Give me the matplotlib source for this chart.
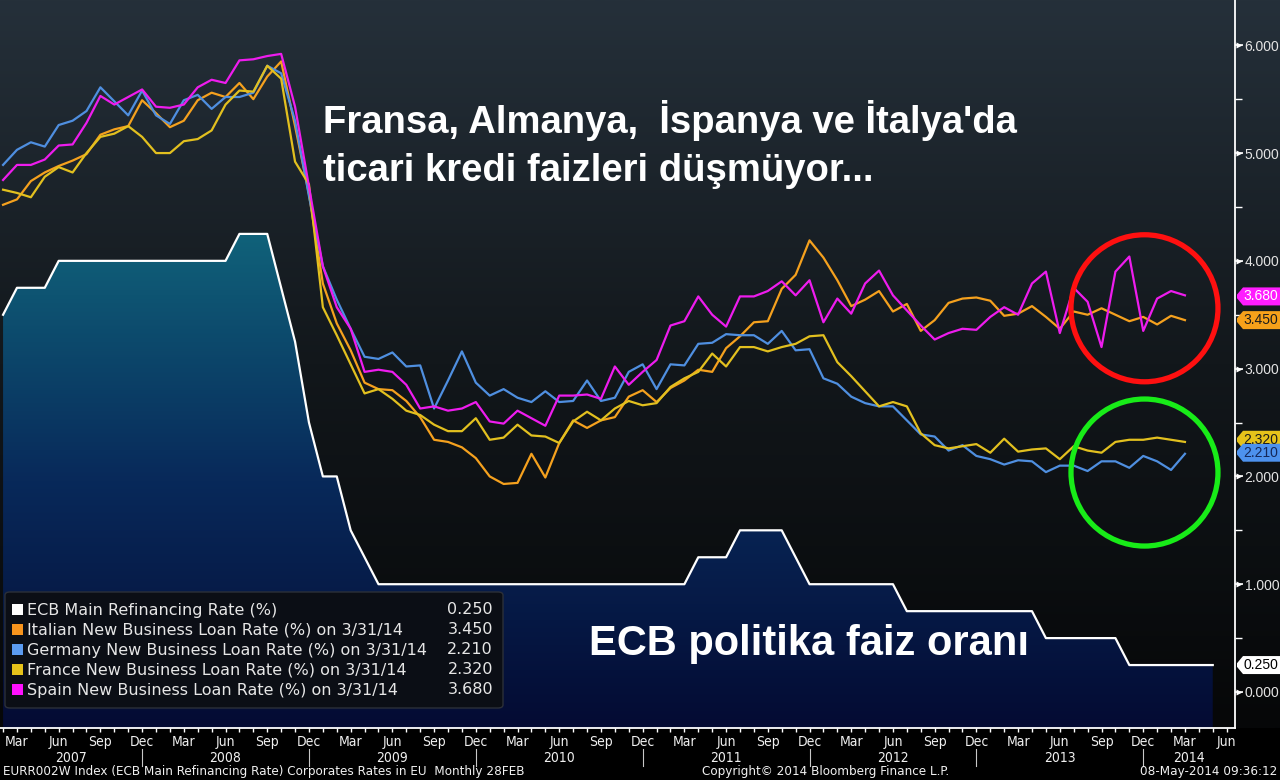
import numpy as np
import matplotlib.pyplot as plt
import matplotlib.transforms as mtransforms
from matplotlib import font_manager
from matplotlib.colors import LinearSegmentedColormap
from matplotlib.patches import Ellipse, FancyBboxPatch, Polygon, Rectangle

# month index: 0 = Jan 2007
ecb_months = np.arange(1, 89)    # Feb 2007 .. May 2014
ecb_rate = [3.50, 3.75, 3.75, 3.75, 4.00, 4.00, 4.00, 4.00, 4.00, 4.00,
            4.00, 4.00, 4.00, 4.00, 4.00, 4.00, 4.00, 4.25, 4.25, 4.25,
            3.75, 3.25, 2.50, 2.00, 2.00, 1.50, 1.25, 1.00, 1.00, 1.00,
            1.00, 1.00, 1.00, 1.00, 1.00, 1.00, 1.00, 1.00, 1.00, 1.00,
            1.00, 1.00, 1.00, 1.00, 1.00, 1.00, 1.00, 1.00, 1.00, 1.00,
            1.25, 1.25, 1.25, 1.50, 1.50, 1.50, 1.50, 1.25, 1.00, 1.00,
            1.00, 1.00, 1.00, 1.00, 1.00, 0.75, 0.75, 0.75, 0.75, 0.75,
            0.75, 0.75, 0.75, 0.75, 0.75, 0.50, 0.50, 0.50, 0.50, 0.50,
            0.50, 0.25, 0.25, 0.25, 0.25, 0.25, 0.25, 0.25]

loan_months = np.arange(1, 87)   # Feb 2007 .. Mar 2014
italy = [4.52, 4.57, 4.74, 4.82, 4.88, 4.93, 4.99, 5.17, 5.22, 5.25,
         5.49, 5.37, 5.24, 5.30, 5.49, 5.56, 5.52, 5.65, 5.50, 5.71,
         5.85, 5.25, 4.62, 3.79, 3.42, 3.17, 2.87, 2.81, 2.80, 2.70,
         2.55, 2.34, 2.32, 2.27, 2.17, 2.00, 1.93, 1.94, 2.21, 1.99,
         2.31, 2.52, 2.45, 2.52, 2.55, 2.74, 2.80, 2.69, 2.82, 2.89,
         2.99, 2.97, 3.19, 3.30, 3.43, 3.44, 3.74, 3.87, 4.19, 4.03,
         3.82, 3.58, 3.64, 3.72, 3.53, 3.60, 3.35, 3.45, 3.61, 3.65,
         3.66, 3.63, 3.49, 3.51, 3.58, 3.48, 3.37, 3.53, 3.50, 3.56,
         3.50, 3.44, 3.48, 3.41, 3.49, 3.45]
germany = [4.89, 5.03, 5.10, 5.06, 5.26, 5.30, 5.39, 5.61, 5.48, 5.35,
           5.58, 5.35, 5.27, 5.49, 5.54, 5.41, 5.52, 5.52, 5.56, 5.81,
           5.74, 5.30, 4.60, 3.95, 3.64, 3.37, 3.11, 3.09, 3.15, 3.02,
           3.03, 2.63, 2.89, 3.16, 2.87, 2.75, 2.81, 2.73, 2.69, 2.79,
           2.69, 2.70, 2.89, 2.70, 2.73, 2.97, 3.04, 2.81, 3.04, 3.03,
           3.23, 3.24, 3.32, 3.31, 3.31, 3.23, 3.35, 3.17, 3.18, 2.91,
           2.86, 2.74, 2.68, 2.65, 2.65, 2.52, 2.39, 2.37, 2.24, 2.29,
           2.19, 2.16, 2.11, 2.15, 2.14, 2.04, 2.10, 2.10, 2.05, 2.14,
           2.14, 2.08, 2.19, 2.14, 2.06, 2.21]
france = [4.66, 4.63, 4.59, 4.78, 4.87, 4.82, 5.00, 5.15, 5.18, 5.25,
          5.15, 5.00, 5.00, 5.11, 5.13, 5.21, 5.45, 5.58, 5.57, 5.81,
          5.69, 4.92, 4.71, 3.57, 3.31, 3.04, 2.77, 2.81, 2.72, 2.61,
          2.57, 2.48, 2.42, 2.42, 2.54, 2.34, 2.36, 2.48, 2.38, 2.37,
          2.31, 2.51, 2.60, 2.52, 2.63, 2.70, 2.66, 2.68, 2.83, 2.91,
          2.97, 3.14, 3.02, 3.20, 3.20, 3.16, 3.20, 3.23, 3.30, 3.31,
          3.06, 2.93, 2.79, 2.65, 2.69, 2.65, 2.40, 2.29, 2.26, 2.28,
          2.30, 2.22, 2.35, 2.23, 2.25, 2.26, 2.16, 2.28, 2.24, 2.22,
          2.32, 2.34, 2.34, 2.36, 2.34, 2.32]
spain = [4.75, 4.89, 4.89, 4.94, 5.07, 5.08, 5.28, 5.53, 5.45, 5.52,
         5.59, 5.43, 5.42, 5.45, 5.61, 5.68, 5.65, 5.86, 5.87, 5.90,
         5.92, 5.43, 4.69, 3.95, 3.57, 3.37, 2.97, 2.99, 2.97, 2.85,
         2.63, 2.65, 2.61, 2.63, 2.69, 2.51, 2.49, 2.61, 2.54, 2.47,
         2.75, 2.75, 2.76, 2.72, 3.02, 2.85, 2.97, 3.08, 3.40, 3.44,
         3.67, 3.50, 3.39, 3.67, 3.67, 3.72, 3.81, 3.68, 3.82, 3.43,
         3.65, 3.51, 3.79, 3.91, 3.68, 3.54, 3.40, 3.27, 3.33, 3.37,
         3.36, 3.48, 3.57, 3.50, 3.79, 3.90, 3.33, 3.75, 3.62, 3.20,
         3.90, 4.04, 3.35, 3.65, 3.72, 3.68]

legend_names = ['ECB Main Refinancing Rate (%)',
                'Italian New Business Loan Rate (%) on 3/31/14',
                'Germany New Business Loan Rate (%) on 3/31/14',
                'France New Business Loan Rate (%) on 3/31/14',
                'Spain New Business Loan Rate (%) on 3/31/14']
last_values = ['0.250', '3.450', '2.210', '2.320', '3.680']
legend_colors = ['#ffffff', '#f7941d', '#5b9bf0', '#e6c21a', '#ff10ff']

tick_months = [2, 5, 8, 11, 14, 17, 20, 23, 26, 29, 32, 35, 38, 41, 44,
               47, 50, 53, 56, 59, 62, 65, 68, 71, 74, 77, 80, 83, 86, 89]
tick_labels = ['Mar', 'Jun', 'Sep', 'Dec'] * 7 + ['Mar', 'Jun']
years = ['2007', '2008', '2009', '2010', '2011', '2012', '2013', '2014']

W, H = 1280, 780
XMIN, XMAX = 0.78, 89.6
YMIN, YMAX = -0.334, 6.42

# pick a narrow font for the axis/footer text if one is installed
fonts = font_manager.fontManager.ttflist
if any(f.name == 'Liberation Sans Narrow' for f in fonts):
    narrow = dict(family='Liberation Sans Narrow')
    tick_size, foot_size = 10.5, 10.5
elif any(f.name == 'DejaVu Sans' and f.stretch == 'condensed' for f in fonts):
    narrow = dict(family='DejaVu Sans', fontstretch='condensed')
    tick_size, foot_size = 10, 9.6
else:
    narrow = dict(family='Liberation Sans')
    tick_size, foot_size = 10, 8.6


def fx(x):
    return x / W


def fy(y):
    return 1 - y / H


fig = plt.figure(figsize=(12.8, 7.8), dpi=100, facecolor='black')

# dark gradient behind the plot and the right-hand axis strip
bg = fig.add_axes([0, fy(728), 1, 728 / H])
bg.axis('off')
grad = np.linspace(0, 1, 256).reshape(-1, 1)
bg_cmap = LinearSegmentedColormap.from_list('bg', ['#060708', '#12171b', '#25303a'])
bg.imshow(grad, aspect='auto', cmap=bg_cmap, origin='lower', extent=[0, 1, 0, 1])

ax = fig.add_axes([0, fy(728), 1235 / W, 728 / H])
ax.set_facecolor('none')

# ECB area with vertical gradient fill
poly = ax.fill_between(ecb_months, ecb_rate, YMIN, color='none', lw=0)
fill_cmap = LinearSegmentedColormap.from_list('fill', ['#040b33', '#08295a', '#10627a'])
im = ax.imshow(grad, aspect='auto', cmap=fill_cmap, origin='lower', zorder=1,
               extent=[ecb_months[0], ecb_months[-1], YMIN, max(ecb_rate)])
im.set_clip_path(poly.get_paths()[0], transform=ax.transData)
ax.plot(ecb_months, ecb_rate, color='white', lw=1.6, zorder=3)

ax.plot(loan_months, italy, color='#f5a11e', lw=1.6, zorder=4)
ax.plot(loan_months, germany, color='#4f8fe0', lw=1.6, zorder=4)
ax.plot(loan_months, france, color='#e2c01f', lw=1.6, zorder=4)
ax.plot(loan_months, spain, color='#ee1cee', lw=1.6, zorder=5)

ax.set_xlim(XMIN, XMAX)
ax.set_ylim(YMIN, YMAX)

for s in ['top', 'left']:
    ax.spines[s].set_visible(False)
for s in ['right', 'bottom']:
    ax.spines[s].set_color('white')
    ax.spines[s].set_linewidth(1.3)

yticks = [0, 1, 2, 3, 4, 5, 6]
ax.yaxis.tick_right()
ax.set_yticks(yticks)
ax.set_yticklabels(['%.3f' % v for v in yticks], family='Liberation Sans')
ax.set_yticks([0.5, 1.5, 2.5, 3.5, 4.5, 5.5], minor=True)
ax.tick_params(axis='y', which='major', colors='white', length=6, width=1.2,
               labelsize=10, labelcolor='#e4e4e4', pad=1)
ax.tick_params(axis='y', which='minor', colors='white', length=5, width=1)
# small arrow heads on the major ticks
ytrans = mtransforms.blended_transform_factory(ax.transAxes, ax.transData)
ax.plot([1.003] * len(yticks), yticks, ls='none', marker='>', ms=4.5, color='white',
        mec='none', transform=ytrans, clip_on=False)

ax.set_xticks(tick_months)
ax.set_xticklabels(tick_labels, **narrow)
ax.set_xticks(np.arange(1, 90), minor=True)
ax.tick_params(axis='x', which='both', colors='white', length=3, width=1,
               labelsize=tick_size, labelcolor='#f0f0f0', pad=2)

# year row under the month labels
xtrans = mtransforms.blended_transform_factory(ax.transData, fig.transFigure)
for i, yr in enumerate(years):
    lo = max(12 * i - 1, XMIN)
    hi = min(12 * i + 11, XMAX)
    ax.text((lo + hi) / 2, fy(758), yr, transform=xtrans, ha='center', va='center',
            color='#f0f0f0', fontsize=tick_size, clip_on=False, **narrow)
    if i > 0:
        ax.plot([12 * i - 1, 12 * i - 1], [fy(749), fy(766)], transform=xtrans,
                color='#c8c8c8', lw=0.8, clip_on=False)

# value tags on the right axis
ftrans = mtransforms.blended_transform_factory(fig.transFigure, ax.transData)
dh = 9 * (YMAX - YMIN) / 728
tag_specs = [(3, 2.34, '#e6c21a', '#1c1c1c'), (2, 2.22, '#4d92ee', '#14285a'),
             (1, 3.45, '#f7a11a', '#1c1c1c'), (4, 3.67, '#ff1cff', '#ffffff'),
             (0, 0.25, '#ffffff', '#000000')]
for idx, yv, fc, tc in tag_specs:
    pts = [(fx(1237), yv + dh * 0.2), (fx(1243), yv + dh), (fx(1280), yv + dh),
           (fx(1280), yv - dh), (fx(1243), yv - dh), (fx(1237), yv - dh * 0.2)]
    fig.add_artist(Polygon(pts, closed=True, transform=ftrans, fc=fc, ec='none', zorder=6))
    fig.text(fx(1243), yv, last_values[idx], transform=ftrans, ha='left', va='center',
             color=tc, fontsize=10, family='Liberation Sans', zorder=7)

# circles
ax.add_patch(Ellipse((83.09, 3.56), 10.57, 1.364, fill=False, ec='#ff1010', lw=3.8, zorder=6))
ax.add_patch(Ellipse((83.09, 2.036), 10.57, 1.364, fill=False, ec='#18ec18', lw=3.8, zorder=6))

# headline texts
fig.text(fx(323), fy(133), "Fransa, Almanya,  İspanya ve İtalya'da", color='white',
         fontsize=27.5, fontweight='bold', family='Liberation Sans', va='baseline')
fig.text(fx(323), fy(181), "ticari kredi faizleri düşmüyor...", color='white',
         fontsize=27.5, fontweight='bold', family='Liberation Sans', va='baseline')
fig.text(fx(589), fy(655), "ECB politika faiz oranı", color='white',
         fontsize=30, fontweight='bold', family='Liberation Sans', va='baseline')

# legend box
fig.add_artist(FancyBboxPatch((fx(5), fy(708)), 498 / W, 116 / H,
                              boxstyle='round,pad=0,rounding_size=0.004',
                              transform=fig.transFigure, fc='#0b0e15', ec='#2c3038',
                              lw=1, zorder=5))
for i, name in enumerate(legend_names):
    yc = 610 + 20 * i
    fig.add_artist(Rectangle((fx(12), fy(yc + 5)), 11 / W, 11 / H, transform=fig.transFigure,
                             fc=legend_colors[i], ec='none', zorder=6))
    fig.text(fx(27), fy(yc), name, color='#e6e6e6', fontsize=11.5, va='center', zorder=6)
    fig.text(fx(493), fy(yc), last_values[i], color='#e6e6e6', fontsize=11.5,
             va='center', ha='right', zorder=6)

# footer
fig.text(fx(3), fy(772), 'EURR002W Index (ECB Main Refinancing Rate) Corporates Rates in EU  Monthly 28FEB',
         color='#f0f0f0', fontsize=foot_size, va='center', **narrow)
fig.text(fx(826), fy(772), 'Copyright© 2014 Bloomberg Finance L.P.', color='#f0f0f0',
         fontsize=foot_size, va='center', ha='center', **narrow)
fig.text(fx(1277), fy(772), '08-May-2014 09:36:12', color='#f0f0f0', fontsize=foot_size,
         va='center', ha='right', **narrow)

fig.savefig('out.png', dpi=100, facecolor='black')
